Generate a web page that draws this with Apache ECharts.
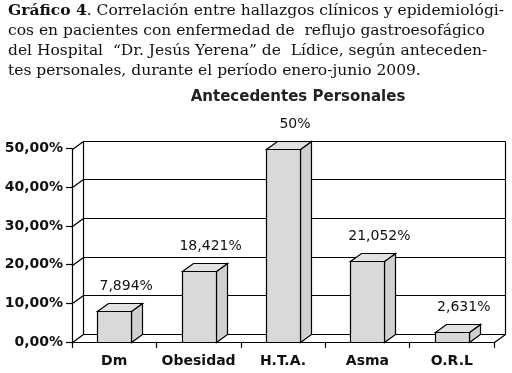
<!DOCTYPE html>
<html>
<head>
<meta charset="utf-8">
<script src="https://cdn.jsdelivr.net/npm/echarts@6/dist/echarts.min.js"></script>
<style>
  html, body { margin: 0; padding: 0; background: #fff; }
  #chart { width: 512px; height: 373px; }
</style>
</head>
<body>
<div id="chart"></div>
<script>
const categories = ['Dm', 'Obesidad', 'H.T.A.', 'Asma', 'O.R.L'];
const values = [7.894, 18.421, 50, 21.052, 2.631];
const yTicks = [0, 10, 20, 30, 40, 50];

// depth of the fake 3D view
const DX = 11;
const DY = -8;

const chart = echarts.init(document.getElementById('chart'));

const crisp = n => Math.round(n) + 0.5;

function renderFrame(params, api) {
    const cs = params.coordSys;
    const x0 = crisp(cs.x);
    const x1 = crisp(cs.x + cs.width);
    const children = [];
    const line = (a, b, c, d) => children.push({
        type: 'line',
        shape: {x1: a, y1: b, x2: c, y2: d},
        style: {stroke: '#000', lineWidth: 1.2}
    });
    yTicks.forEach(v => {
        const y = crisp(api.coord([0, v])[1]);
        line(x0 + DX, y + DY, x1 + DX, y + DY);
        line(x0, y, x0 + DX, y + DY);
    });
    const yb = crisp(api.coord([0, 0])[1]);
    const yt = crisp(api.coord([0, 50])[1]);
    line(x0 + DX, yt + DY, x0 + DX, yb + DY);
    line(x1 + DX, yt + DY, x1 + DX, yb + DY);
    line(x1, yb, x1 + DX, yb + DY);
    return {type: 'group', children: children};
}

function renderBar(params, api) {
    const i = api.value(0);
    const v = api.value(1);
    const base = api.coord([i, 0]);
    const top = api.coord([i, v]);
    const w = Math.round(api.size([1, 0])[0] * 0.4);
    const xl = crisp(base[0] - w / 2);
    const xr = xl + w;
    const yb = crisp(base[1]);
    const yt = crisp(top[1]);
    const stroke = {stroke: '#000', lineWidth: 1.2};
    return {
        type: 'group',
        children: [
            {type: 'polygon', shape: {points: [[xr, yt], [xr + DX, yt + DY], [xr + DX, yb + DY], [xr, yb]]},
                style: Object.assign({fill: '#d0d0d0'}, stroke)},
            {type: 'polygon', shape: {points: [[xl, yt], [xr, yt], [xr + DX, yt + DY], [xl + DX, yt + DY]]},
                style: Object.assign({fill: '#e2e2e2'}, stroke)},
            {type: 'rect', shape: {x: xl, y: yt, width: w, height: yb - yt},
                style: Object.assign({fill: '#d9d9d9'}, stroke)},
            {type: 'text', x: base[0] + 12, y: yt - 25,
                style: {text: String(v).replace('.', ',') + '%', align: 'center', verticalAlign: 'middle',
                    font: '14px "DejaVu Sans"', fill: '#111'}}
        ]
    };
}

const option = {
    animation: false,
    graphic: [
        {
            type: 'text', left: 'center', top: 1,
            style: {
                text: '{b|Gráfico 4}. Correlación entre hallazgos clínicos y epidemiológi-\n' +
                    'cos en pacientes con enfermedad de  reflujo gastroesofágico\n' +
                    'del Hospital  “Dr. Jesús Yerena” de  Lídice, según anteceden-\n' +
                    'tes personales, durante el período enero-junio 2009.',
                align: 'center',
                font: '15.5px "DejaVu Serif"',
                lineHeight: 20,
                fill: '#111',
                rich: {
                    b: {font: 'bold 15.5px "DejaVu Serif"', fill: '#111', lineHeight: 20}
                }
            }
        },
        {
            type: 'text', x: 298, y: 97,
            style: {
                text: 'Antecedentes Personales', align: 'center', verticalAlign: 'middle',
                font: 'bold 15px "DejaVu Sans"', fill: '#222'
            }
        }
    ],
    grid: {left: 72, right: 18, top: 148.5, bottom: 31},
    xAxis: {
        type: 'category',
        data: categories,
        axisLine: {lineStyle: {color: '#000', width: 1.2}},
        axisTick: {show: true, length: 6, lineStyle: {color: '#000', width: 1.2}},
        axisLabel: {interval: 0, margin: 12, color: '#111', fontFamily: 'DejaVu Sans', fontWeight: 'bold', fontSize: 14}
    },
    yAxis: {
        type: 'value',
        min: 0,
        max: 50,
        interval: 10,
        axisLine: {show: true, lineStyle: {color: '#000', width: 1.2}},
        axisTick: {show: true, length: 6, lineStyle: {color: '#000', width: 1.2}},
        splitLine: {show: false},
        axisLabel: {
            margin: 9, color: '#111', fontFamily: 'DejaVu Sans', fontWeight: 'bold', fontSize: 14,
            formatter: v => v.toFixed(2).replace('.', ',') + '%'
        }
    },
    series: [
        {
            type: 'custom',
            renderItem: renderFrame,
            data: [[0, 0]],
            z: 1,
            silent: true
        },
        {
            type: 'custom',
            renderItem: renderBar,
            data: values.map((v, i) => [i, v]),
            z: 2
        }
    ]
};

chart.setOption(option);
</script>
</body>
</html>
